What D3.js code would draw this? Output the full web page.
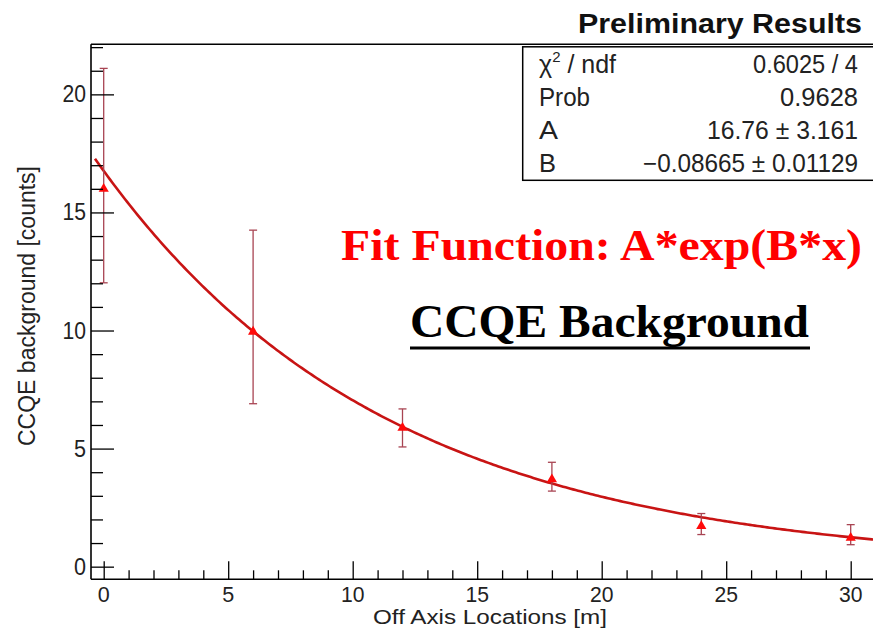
<!DOCTYPE html>
<html>
<head>
<meta charset="utf-8">
<script src="https://cdn.jsdelivr.net/npm/d3@7"></script>
<style>
  html, body { margin: 0; padding: 0; background: #fff; }
  svg { display: block; font-family: "Liberation Sans", Arial, Helvetica, sans-serif; }
  .serif { font-family: "Liberation Serif", "Times New Roman", Times, serif; }
</style>
</head>
<body>
<svg id="chart" width="873" height="629"></svg>
<script>
// ---- data ----
const xLocations = [0, 6, 12, 18, 24, 30];
const counts     = [16.0, 9.95, 5.88, 3.70, 1.72, 1.22];
const errUp      = [5.10, 4.30, 0.80, 0.72, 0.53, 0.56];
const errDown    = [3.98, 3.05, 0.81, 0.50, 0.36, 0.29];
const fitA = 16.76;
const fitB = -0.08665;
const xTickValues = [0, 5, 10, 15, 20, 25, 30];
const yTickValues = [0, 5, 10, 15, 20];
const statLabels = ["χ2 / ndf", "Prob", "A", "B"];
const statValues = ["0.6025 / 4", "0.9628", "16.76 ± 3.161", "−0.08665 ± 0.01129"];

const svg = d3.select("#chart");

// scales
const x = d3.scaleLinear().domain([-0.51, 31.0]).range([91, 91 + 31.51 * 24.9]);
const y = d3.scaleLinear().domain([-0.535, 22.12]).range([579.3, 44.3]);

const frameL = 91, frameR = 880, frameT = 44.3, frameB = 579.3;

// fit curve
const fitX = d3.range(-0.35, 31.01, 0.1);
const line = d3.line().x(d => x(d)).y(d => y(fitA * Math.exp(fitB * d)));
svg.append("path")
  .datum(fitX)
  .attr("d", line)
  .attr("fill", "none")
  .attr("stroke", "#c81414")
  .attr("stroke-width", 2.6);

// error bars
const eb = svg.append("g").attr("stroke", "#a84452").attr("stroke-width", 1.3);
xLocations.forEach((xv, i) => {
  const cx = x(xv);
  const top = y(counts[i] + errUp[i]);
  const bot = y(counts[i] - errDown[i]);
  eb.append("line").attr("x1", cx).attr("x2", cx).attr("y1", top).attr("y2", bot);
  eb.append("line").attr("x1", cx - 4).attr("x2", cx + 4).attr("y1", top).attr("y2", top);
  eb.append("line").attr("x1", cx - 4).attr("x2", cx + 4).attr("y1", bot).attr("y2", bot);
});

// markers
svg.append("g").selectAll("path")
  .data(xLocations)
  .join("path")
  .attr("d", d3.symbol().type(d3.symbolTriangle).size(45))
  .attr("transform", (d, i) => `translate(${x(d)},${y(counts[i])})`)
  .attr("fill", "#ff0a0a");

// frame
const frame = svg.append("g").attr("stroke", "#000").attr("stroke-width", 1.6).attr("fill", "none");
frame.append("line").attr("x1", frameL).attr("x2", frameL).attr("y1", frameT).attr("y2", frameB);
frame.append("line").attr("x1", frameL).attr("x2", frameR).attr("y1", frameB).attr("y2", frameB);
frame.append("line").attr("x1", frameL).attr("x2", frameR).attr("y1", frameT).attr("y2", frameT);

// y axis ticks (inside, pointing right)
const yAxis = d3.axisRight(y)
  .tickValues(d3.range(0, 23, 1))
  .tickSize(12)
  .tickFormat("");
const gy = svg.append("g").attr("transform", `translate(${frameL},0)`).call(yAxis);
gy.select(".domain").remove();
gy.selectAll(".tick line")
  .attr("stroke", "#000").attr("stroke-width", 1.3)
  .attr("x2", d => (d % 5 === 0 ? 23 : 12));

// y tick labels
svg.append("g").selectAll("text")
  .data(yTickValues).join("text")
  .attr("x", 86).attr("y", d => y(d) + 8)
  .attr("text-anchor", "end")
  .attr("font-size", 23)
  .attr("fill", "#222")
  .attr("textLength", d => (String(d).length === 1 ? 12 : 23.5))
  .attr("lengthAdjust", "spacingAndGlyphs")
  .text(d => d);

// x axis ticks (inside, pointing up)
const xAxis = d3.axisTop(x)
  .tickValues(d3.range(0, 31, 1))
  .tickSize(9)
  .tickFormat("");
const gx = svg.append("g").attr("transform", `translate(0,${frameB})`).call(xAxis);
gx.select(".domain").remove();
gx.selectAll(".tick line")
  .attr("stroke", "#000").attr("stroke-width", 1.3)
  .attr("y2", d => (d % 5 === 0 ? -18 : -9));

// x tick labels
svg.append("g").selectAll("text")
  .data(xTickValues).join("text")
  .attr("x", d => x(d)).attr("y", 602)
  .attr("text-anchor", "middle")
  .attr("font-size", 22)
  .attr("fill", "#222")
  .attr("textLength", d => (String(d).length === 1 ? 12 : 23.5))
  .attr("lengthAdjust", "spacingAndGlyphs")
  .text(d => d);

// axis titles
svg.append("text")
  .attr("x", 490).attr("y", 624)
  .attr("text-anchor", "middle")
  .attr("font-size", 20)
  .attr("fill", "#222")
  .attr("textLength", 234).attr("lengthAdjust", "spacingAndGlyphs")
  .text("Off Axis Locations [m]");

svg.append("text")
  .attr("transform", "translate(35,306) rotate(-90)")
  .attr("text-anchor", "middle")
  .attr("font-size", 23)
  .attr("fill", "#222")
  .attr("textLength", 280).attr("lengthAdjust", "spacingAndGlyphs")
  .text("CCQE background [counts]");

// title
svg.append("text")
  .attr("x", 862).attr("y", 32.5)
  .attr("text-anchor", "end")
  .attr("font-size", 27)
  .attr("font-weight", "bold")
  .attr("fill", "#111")
  .attr("textLength", 284).attr("lengthAdjust", "spacingAndGlyphs")
  .text("Preliminary Results");

// stats box
svg.append("rect")
  .attr("x", 522.7).attr("y", 46.8)
  .attr("width", 360).attr("height", 133.5)
  .attr("fill", "#fff")
  .attr("stroke", "#000").attr("stroke-width", 1.5);

const rowY = [73, 106, 139, 172];
const valWidths = [105, 78, 151, 215];
const labWidths = [74, 51, 19, 17];
const statG = svg.append("g").attr("font-size", 25).attr("fill", "#222");
statLabels.forEach((lab, i) => {
  const t = statG.append("text").attr("x", 539).attr("y", rowY[i]);
  if (i === 0) {
    t.append("tspan").text("χ");
    t.append("tspan").attr("font-size", 15).attr("dy", -11).text("2");
    t.append("tspan").attr("dy", 11).text(" / ndf");
  } else {
    t.attr("textLength", labWidths[i]).attr("lengthAdjust", "spacingAndGlyphs").text(lab);
  }
  statG.append("text").attr("x", 858).attr("y", rowY[i])
    .attr("text-anchor", "end")
    .attr("textLength", valWidths[i]).attr("lengthAdjust", "spacingAndGlyphs")
    .text(statValues[i]);
});

// annotations
svg.append("text")
  .attr("class", "serif")
  .attr("x", 341).attr("y", 260)
  .attr("font-weight", "bold")
  .attr("font-size", 44)
  .attr("fill", "#ff0000")
  .attr("textLength", 521).attr("lengthAdjust", "spacingAndGlyphs")
  .text("Fit Function: A*exp(B*x)");

svg.append("text")
  .attr("class", "serif")
  .attr("x", 410).attr("y", 337)
  .attr("font-weight", "bold")
  .attr("font-size", 46)
  .attr("fill", "#000")
  .attr("textLength", 399).attr("lengthAdjust", "spacingAndGlyphs")
  .text("CCQE Background");
svg.append("line")
  .attr("x1", 410).attr("x2", 810).attr("y1", 348).attr("y2", 348)
  .attr("stroke", "#000").attr("stroke-width", 3);
</script>
</body>
</html>
